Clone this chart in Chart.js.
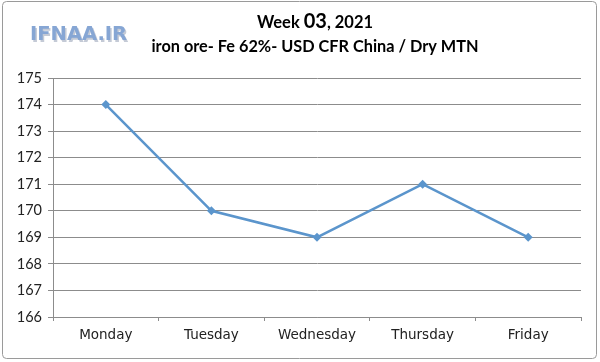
<!DOCTYPE html>
<html>
<head>
<meta charset="utf-8">
<script src="https://cdn.jsdelivr.net/npm/chart.js@4/dist/chart.umd.min.js"></script>
<style>
  html, body { margin: 0; padding: 0; background: #fff; }
  #wrap { width: 600px; height: 362px; position: relative; }
</style>
</head>
<body>
<div id="wrap"><canvas id="chart" width="600" height="362"></canvas></div>
<script>
const days = ["Monday", "Tuesday", "Wednesday", "Thursday", "Friday"]
const prices = [174, 170, 169, 171, 169]
const yMin = 166
const yMax = 175
const titleParts = [["Week ", 16.5], ["03", 20], [", 2021", 16.5]]
const subtitle = "iron ore- Fe 62%- USD CFR China / Dry MTN"
const watermark = "IFNAA.IR"

// frame, watermark and the two title lines
const decor = {
  id: "decor",
  beforeDraw(chart) {
    const ctx = chart.ctx
    ctx.save()
    ctx.strokeStyle = "#9a9a9a"
    ctx.lineWidth = 1
    ctx.beginPath()
    ctx.roundRect(2.5, 1.5, 594, 357, 4)
    ctx.stroke()
    ctx.restore()
  },
  afterDraw(chart) {
    const ctx = chart.ctx
    const { left, right } = chart.chartArea
    const cx = (left + right) / 2 - 2
    ctx.save()
    ctx.textBaseline = "alphabetic"

    ctx.font = "bold 19.5px 'DejaVu Sans'"
    ctx.fillStyle = "rgba(60,80,120,0.3)"
    ctx.fillText(watermark, 31.5, 41.5)
    ctx.fillStyle = "#86a6d4"
    ctx.fillText(watermark, 30, 40)

    ctx.fillStyle = "#000"
    let total = 0
    titleParts.forEach(([t, s]) => {
      ctx.font = `bold ${s}px Lato`
      total += ctx.measureText(t).width
    })
    let x = cx - total / 2
    titleParts.forEach(([t, s]) => {
      ctx.font = `bold ${s}px Lato`
      ctx.fillText(t, x, 28)
      x += ctx.measureText(t).width
    })

    ctx.font = "bold 16.3px Lato"
    ctx.textAlign = "center"
    ctx.fillText(subtitle, cx, 52)
    ctx.restore()
  }
}

new Chart(document.getElementById("chart"), {
  type: "line",
  data: {
    labels: days,
    datasets: [{
      data: prices,
      borderColor: "#5b95cc",
      backgroundColor: "#5b95cc",
      borderWidth: 2.5,
      tension: 0,
      pointStyle: "rectRot",
      pointRadius: 4.5,
      pointHoverRadius: 4.5,
      pointBorderWidth: 0
    }]
  },
  options: {
    responsive: false,
    animation: false,
    layout: { padding: { left: 0, right: 19, top: 78, bottom: 0 } },
    plugins: {
      legend: { display: false },
      tooltip: { enabled: false },
      title: { display: false }
    },
    scales: {
      x: {
        offset: true,
        afterFit: (s) => { s.height = 45 },
        grid: {
          offset: true,
          drawOnChartArea: false,
          drawTicks: true,
          tickLength: 4,
          color: "#8c8c8c"
        },
        border: { display: true, color: "#8c8c8c" },
        ticks: {
          color: "#222",
          font: { family: "'DejaVu Sans'", size: 13.5 },
          padding: 6,
          maxRotation: 0
        }
      },
      y: {
        min: yMin,
        max: yMax,
        afterFit: (s) => { s.width = 53 },
        grid: {
          color: "#8c8c8c",
          tickLength: 5,
          lineWidth: 1
        },
        border: { display: true, color: "#8c8c8c" },
        ticks: {
          stepSize: 1,
          color: "#222",
          font: { family: "Lato", size: 14.5 },
          padding: 6
        }
      }
    }
  },
  plugins: [decor]
})
</script>
</body>
</html>
